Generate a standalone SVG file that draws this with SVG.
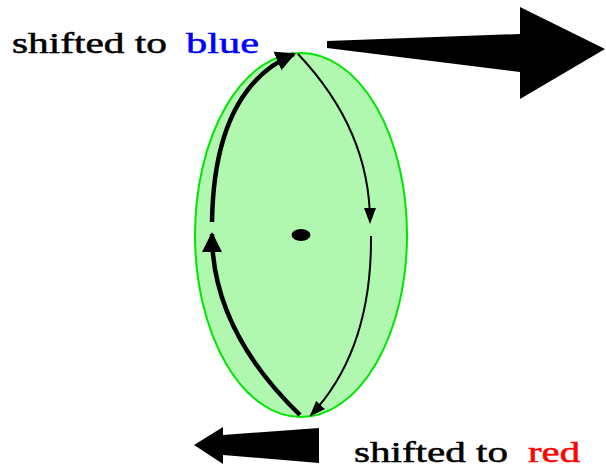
<svg xmlns="http://www.w3.org/2000/svg" width="606" height="468" viewBox="0 0 606 468">
<style>
.lbl{font-family:"Liberation Serif","Times New Roman",serif;font-size:29px;fill:#000;stroke:#000;stroke-width:0.5}
.thick{fill:none;stroke:#000;stroke-width:4.5}
.thin{fill:none;stroke:#000;stroke-width:2}
.big{fill:#000;stroke:none}
</style>
<defs>
<marker id="ahThick" markerUnits="userSpaceOnUse" markerWidth="24" markerHeight="24" refX="18" refY="10" orient="auto" viewBox="0 0 24 20">
<path d="M0,0 L20,10 L0,20 Z" fill="#000"/>
</marker>
<marker id="ahThin" markerUnits="userSpaceOnUse" markerWidth="18" markerHeight="14" refX="14" refY="6" orient="auto" viewBox="0 0 18 12">
<path d="M0,0 L16,6 L0,12 Z" fill="#000"/>
</marker>
</defs>
<g id="orbit">
<ellipse cx="301" cy="235" rx="106" ry="182" fill="#b0f7b0" stroke="#00e600" stroke-width="2"/>
</g>
<g id="center">
<ellipse cx="301" cy="235" rx="9.5" ry="6" fill="#000"/>
</g>
<g id="connectors">
<path class="thick" d="M300,415 Q212,330 212,234" marker-end="url(#ahThick)"/>
<path class="thick" d="M212,222 Q214,88 294,54" marker-end="url(#ahThick)"/>
<path class="thin" d="M298,54 Q370,130 370,222" marker-end="url(#ahThin)"/>
<path class="thin" d="M371,236 Q372,350 311,415" marker-end="url(#ahThin)"/>
</g>
<g id="arrow-blue">
<polygon class="big" points="327,41 520,34 520,7 605,49 520,99 520,72 327,48"/>
</g>
<g id="arrow-red">
<polygon class="big" points="194,445 223,427 223,435 319,428 319,463 223,455 223,464"/>
</g>
<g id="label-blue">
<text class="lbl" x="12" y="53" textLength="155" lengthAdjust="spacingAndGlyphs">shifted to</text>
<text class="lbl" x="186" y="53" textLength="73" lengthAdjust="spacingAndGlyphs" style="fill:#0000ff;stroke:#0000ff">blue</text>
</g>
<g id="label-red">
<text class="lbl" x="354" y="462" textLength="154" lengthAdjust="spacingAndGlyphs">shifted to</text>
<text class="lbl" x="528" y="462" textLength="52" lengthAdjust="spacingAndGlyphs" style="fill:#ff0000;stroke:#ff0000">red</text>
</g>
</svg>
